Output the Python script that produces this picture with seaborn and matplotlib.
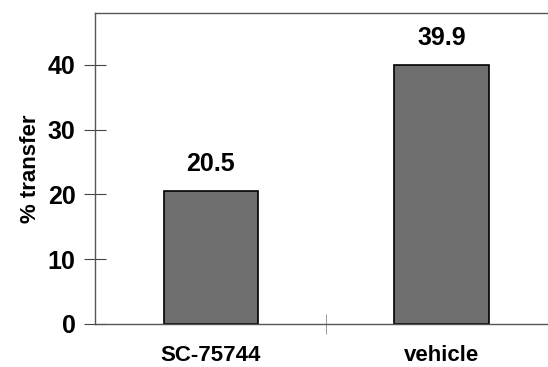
import matplotlib
matplotlib.use("Agg")
import matplotlib.pyplot as plt
import seaborn as sns
import pandas as pd

sns.set_style("white")
plt.rcParams["font.family"] = ["Liberation Sans", "DejaVu Sans"]
plt.rcParams["text.color"] = "black"
plt.rcParams["axes.labelcolor"] = "black"
plt.rcParams["xtick.color"] = "black"
plt.rcParams["ytick.color"] = "black"

groups = ["SC-75744", "vehicle"]
transfer = [20.5, 39.9]
value_labels = ["20.5", "39.9"]
yticks = [0, 10, 20, 30, 40]

df = pd.DataFrame({"group": groups, "transfer": transfer})

fig = plt.figure(figsize=(5.48, 3.67), dpi=100)
ax = fig.add_axes([0.1734, 0.1172, 0.8266, 0.8474])

sns.barplot(data=df, x="group", y="transfer", color="#6e6e6e",
            edgecolor="black", linewidth=1.2, width=0.41, saturation=1, ax=ax)

for i, (v, lab) in enumerate(zip(transfer, value_labels)):
    ax.annotate(lab, (i, v), xytext=(0, 11), textcoords="offset points",
                ha="center", va="bottom", fontsize=18, fontweight="bold",
                color="black")

ax.set_xlim(-0.502, 1.46)
ax.set_ylim(0, 48)
ax.set_yticks(yticks)
ax.set_yticklabels([str(t) for t in yticks], fontsize=18, fontweight="bold")
ax.set_xticks([0, 1])
ax.set_xticklabels(groups, fontsize=16, fontweight="bold")
ax.tick_params(axis="x", which="major", bottom=False, length=0, pad=15)
ax.tick_params(axis="y", left=True, direction="inout", length=16, width=0.8,
               color="#444444", labelcolor="black", pad=6)

# boundary tick between the two groups
ax.set_xticks([0.5], minor=True)
ax.tick_params(axis="x", which="minor", bottom=True, direction="inout",
               length=14, width=0.6, color="#888888")

ax.set_xlabel("")
ax.set_ylabel("% transfer", fontsize=16, fontweight="bold", labelpad=5)

for side in ["left", "bottom", "top"]:
    ax.spines[side].set_visible(True)
    ax.spines[side].set_color("#555555")
    ax.spines[side].set_linewidth(1.0)
ax.spines["right"].set_visible(False)

fig.savefig("out.png", dpi=100)
